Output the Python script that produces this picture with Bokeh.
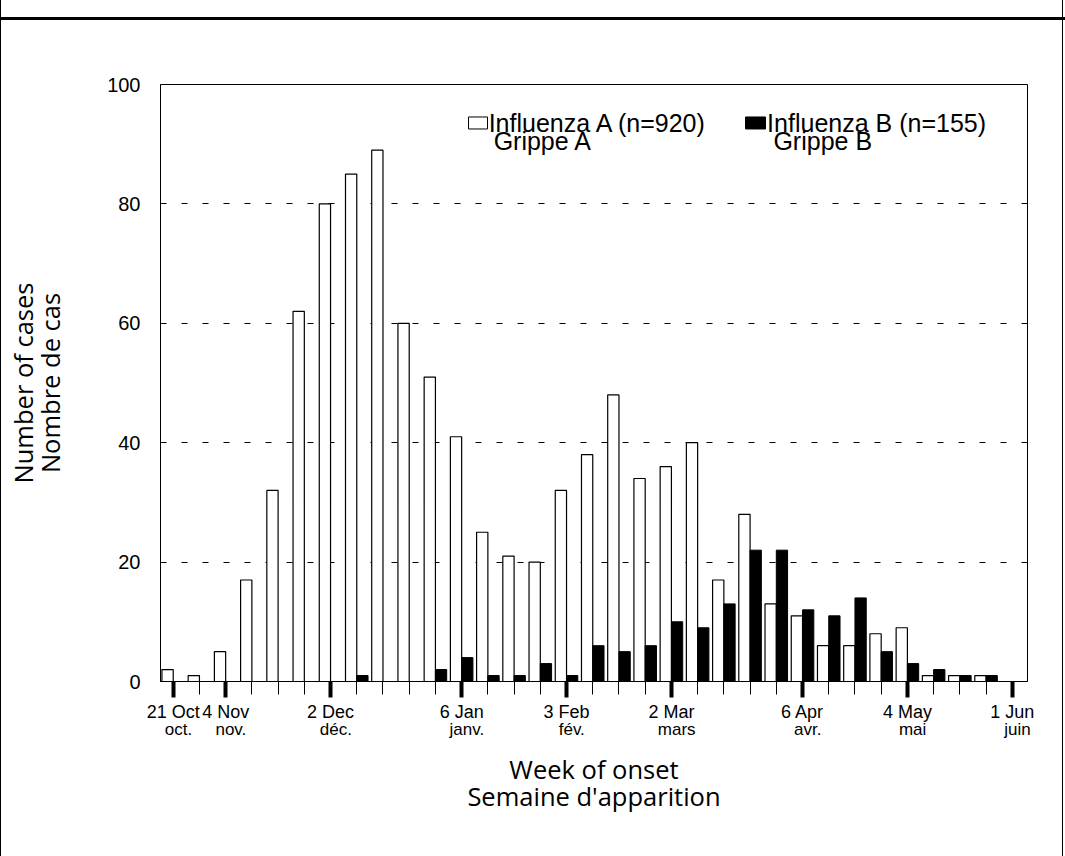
from bokeh.plotting import figure
from bokeh.models import (FixedTicker, Range1d, LinearAxis, Label, BoxAnnotation,
                          ColumnDataSource, AllLabels)
from bokeh.transform import dodge
from bokeh.embed import file_html
from bokeh.resources import INLINE

# ---- data ----
weeks = list(range(33))
influenza_a = [2, 1, 5, 17, 32, 62, 80, 85, 89, 60, 51, 41, 25, 21, 20, 32, 38,
               48, 34, 36, 40, 17, 28, 13, 11, 6, 6, 8, 9, 1, 1, 1, 0]
influenza_b = [0, 0, 0, 0, 0, 0, 0, 1, 0, 0, 2, 4, 1, 1, 3, 1, 6,
               5, 6, 10, 9, 13, 22, 22, 12, 11, 14, 5, 3, 2, 1, 1, 0]
label_weeks = [0, 2, 6, 11, 15, 19, 24, 28, 32]
labels_en = ["21 Oct", "4 Nov", "2 Dec", "6 Jan", "3 Feb", "2 Mar", "6 Apr", "4 May", "1 Jun"]
labels_fr = ["oct.", "nov.", "déc.", "janv.", "fév.", "mars", "avr.", "mai", "juin"]
y_ticks = [0, 20, 40, 60, 80, 100]
legend_a = ["Influenza A (n=920)", "Grippe A"]
legend_b = ["Influenza B (n=155)", "Grippe B"]

BAR_W = 0.43
X0, X1 = -0.485, 32.58
FR_SHIFT = 0.2

p = figure(width=1065, height=856, x_range=Range1d(X0, X1), y_range=Range1d(0, 100),
           output_backend="svg", toolbar_location=None,
           min_border_left=160, min_border_right=38, min_border_top=84, min_border_bottom=175)
p.border_fill_color = None
p.background_fill_color = "white"
p.outline_line_color = "black"
p.outline_line_width = 1
p.outline_line_alpha = 1
p.styles = {
    "background": ("linear-gradient(#000,#000) 0 17px / 100% 3px no-repeat, "
                   "linear-gradient(#000,#000) 0 0 / 1px 100% no-repeat, "
                   "linear-gradient(#000,#000) 1062px 0 / 1px 100% no-repeat, #fff")
}

src = ColumnDataSource(dict(week=weeks, a=influenza_a, b=influenza_b))
p.vbar(x=dodge("week", -BAR_W / 2), width=BAR_W, top="a", bottom=0, source=src,
       fill_color="white", line_color="black", line_width=1.2)
p.vbar(x=dodge("week", BAR_W / 2), width=BAR_W, top="b", bottom=0, source=src,
       fill_color="black", line_color="black", line_width=1)

# ---- grid ----
p.xgrid.visible = False
p.ygrid.ticker = FixedTicker(ticks=y_ticks[1:])
p.ygrid.grid_line_color = "black"
p.ygrid.grid_line_alpha = 1
p.ygrid.grid_line_dash = "6 15"
p.ygrid.grid_line_width = 1

TITLE_FONT = "Open Sans"
TITLE_SIZE = "25.5px"
TITLE_LH = 0.8

# ---- x axis (English labels + ticks) ----
xa = p.xaxis[0]
xa.ticker = FixedTicker(ticks=label_weeks, minor_ticks=weeks)
xa.major_label_overrides = {k: t for k, t in zip(label_weeks, labels_en)}
xa.major_label_policy = AllLabels()
xa.axis_line_color = "black"
xa.axis_line_width = 1
xa.major_tick_in = 0
xa.major_tick_out = 16
xa.major_tick_line_width = 4
xa.major_tick_line_color = "black"
xa.minor_tick_in = 0
xa.minor_tick_out = 13
xa.minor_tick_line_width = 1
xa.minor_tick_line_color = "black"
xa.major_label_standoff = 4
xa.major_label_text_font = "Liberation Sans"
xa.major_label_text_font_size = "18px"
xa.major_label_text_color = "black"

# ---- second x axis (French labels + title) ----
p.extra_x_ranges = {"fr": Range1d(X0 - FR_SHIFT, X1 - FR_SHIFT)}
fa = LinearAxis(x_range_name="fr",
                ticker=FixedTicker(ticks=label_weeks, minor_ticks=[]),
                major_label_overrides={k: t for k, t in zip(label_weeks, labels_fr)},
                major_label_policy=AllLabels(),
                axis_line_color=None, major_tick_line_color=None, minor_tick_line_color=None,
                major_tick_in=0, major_tick_out=0, minor_tick_in=0, minor_tick_out=0,
                major_label_standoff=-5,
                major_label_text_font="Liberation Sans",
                major_label_text_font_size="17px",
                major_label_text_color="black",
                axis_label="Week of onset\nSemaine d'apparition",
                axis_label_standoff=10,
                axis_label_text_font=TITLE_FONT,
                axis_label_text_font_size=TITLE_SIZE,
                axis_label_text_font_style="normal",
                axis_label_text_color="black",
                axis_label_text_line_height=TITLE_LH)
p.add_layout(fa, "below")

# ---- y axis ----
ya = p.yaxis[0]
ya.ticker = FixedTicker(ticks=y_ticks)
ya.axis_line_color = "black"
ya.major_tick_out = 0
ya.major_tick_in = 0
ya.minor_tick_out = 0
ya.minor_tick_in = 0
ya.major_label_standoff = 20
ya.major_label_text_font = "Liberation Sans"
ya.major_label_text_font_size = "20px"
ya.major_label_text_color = "black"
ya.axis_label = "Number of cases\nNombre de cas"
ya.axis_label_standoff = 37
ya.axis_label_text_font = TITLE_FONT
ya.axis_label_text_font_size = TITLE_SIZE
ya.axis_label_text_font_style = "normal"
ya.axis_label_text_color = "black"
ya.axis_label_text_line_height = TITLE_LH

# ---- legend (drawn manually: swatch aligned with first line) ----
p.add_layout(BoxAnnotation(left=11.262, right=11.987, bottom=92.55, top=94.56,
                           fill_color="white", fill_alpha=1, line_color="black",
                           line_width=1, line_alpha=1))
p.add_layout(BoxAnnotation(left=21.826, right=22.589, bottom=92.55, top=94.56,
                           fill_color="black", fill_alpha=1, line_color="black",
                           line_width=1, line_alpha=1))
for (x1, x2, lines) in [(12.03, 12.22, legend_a), (22.65, 22.89, legend_b)]:
    p.add_layout(Label(x=x1, y=93.6, text=lines[0], text_font="Liberation Sans",
                       text_font_size="25px", text_baseline="alphabetic",
                       text_align="left", text_color="black"))
    p.add_layout(Label(x=x2, y=90.5, text=lines[1], text_font="Liberation Sans",
                       text_font_size="25px", text_baseline="alphabetic",
                       text_align="left", text_color="black"))

open("out.html", "w").write(file_html(p, INLINE))
